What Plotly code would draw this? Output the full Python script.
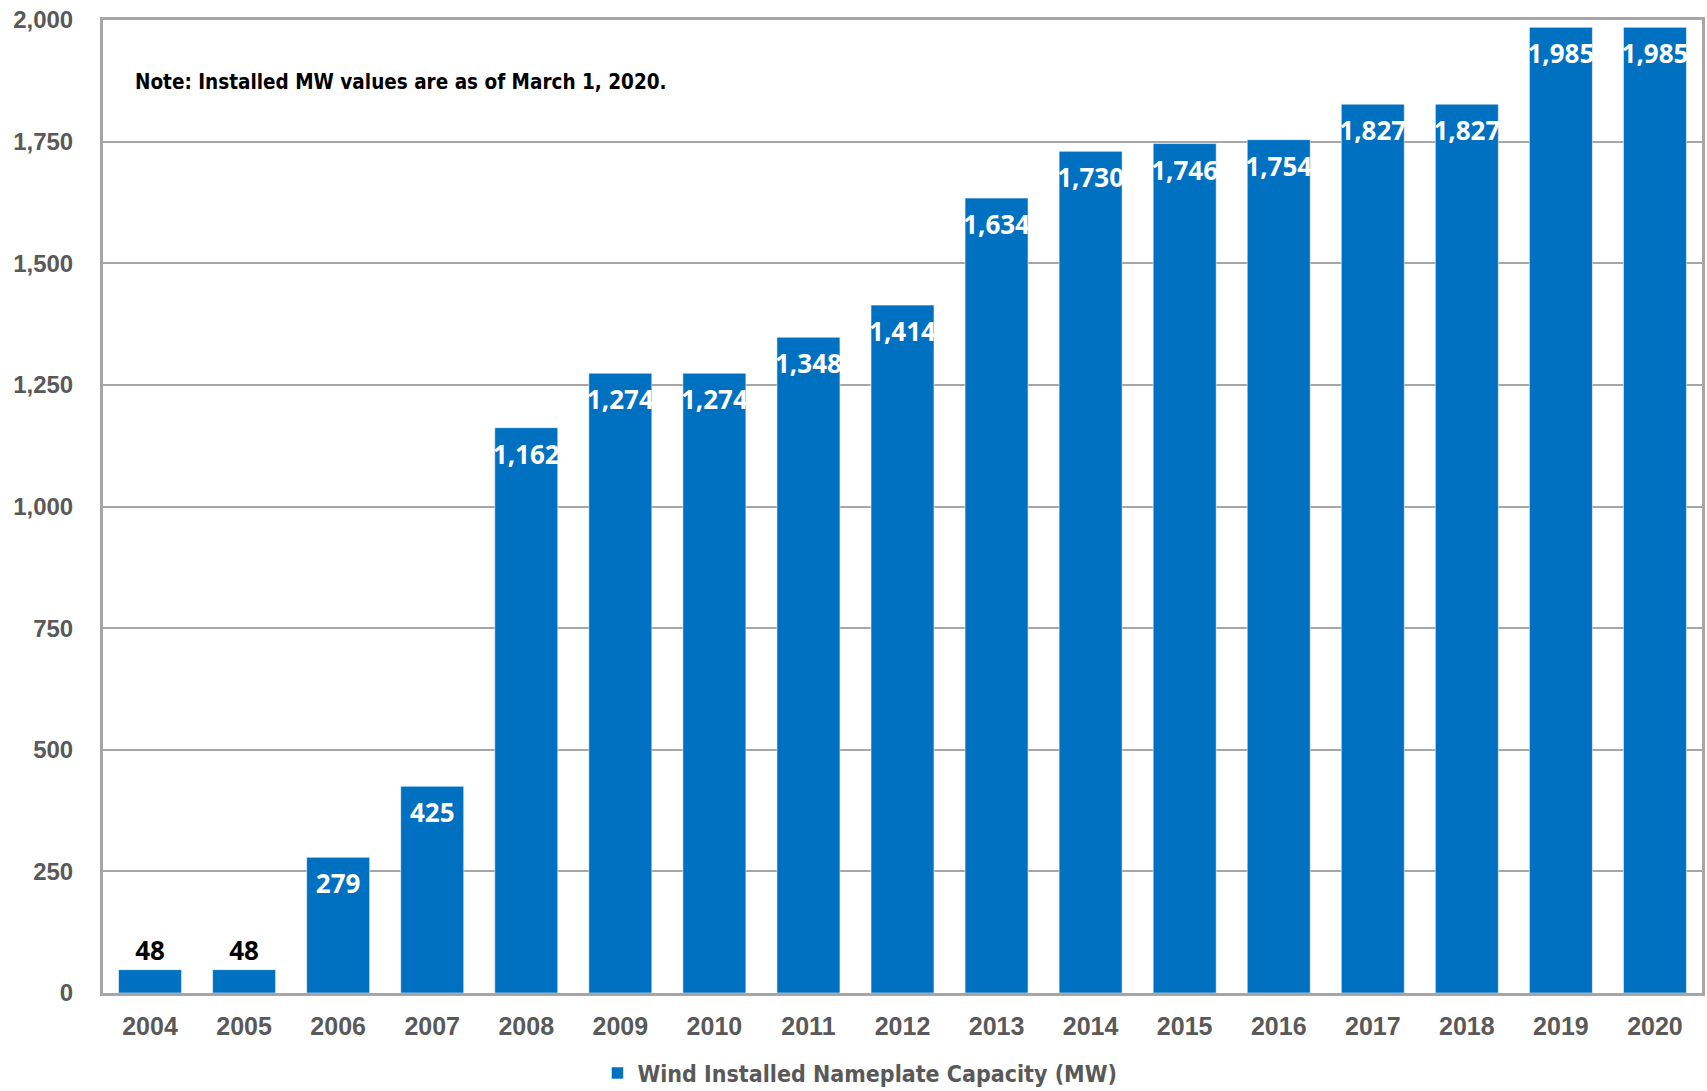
import plotly.graph_objects as go

years = ["2004", "2005", "2006", "2007", "2008", "2009", "2010", "2011", "2012",
         "2013", "2014", "2015", "2016", "2017", "2018", "2019", "2020"]
capacity_mw = [48, 48, 279, 425, 1162, 1274, 1274, 1348, 1414,
               1634, 1730, 1746, 1754, 1827, 1827, 1985, 1985]
series_name = "Wind Installed Nameplate Capacity (MW)"
note_text = "Note: Installed MW values are as of March 1, 2020."
y_ticks = [0, 250, 500, 750, 1000, 1250, 1500, 1750, 2000]

BLUE = "#0070C0"
GRID = "#A6A6A6"
TICK_GRAY = "#595959"
NARROW = "Liberation Sans Narrow, Arial Narrow, DejaVu Sans Condensed, sans-serif"
LABEL_FONT = "Noto Sans, Open Sans, sans-serif"

inside = [v > 100 for v in capacity_mw]

fig = go.Figure()
fig.add_trace(go.Bar(
    x=years, y=capacity_mw, name=series_name,
    marker=dict(color=BLUE, line=dict(color="rgba(255,255,255,0.55)", width=1)),
    hoverinfo="x+y",
))
# data labels
fig.add_trace(go.Scatter(
    x=years, y=capacity_mw, mode="markers+text",
    text=[f"{v:,}" for v in capacity_mw],
    textposition=["bottom center" if i else "top center" for i in inside],
    textfont=dict(family=LABEL_FONT, size=26, weight="bold",
                  color=["white" if i else "black" for i in inside]),
    marker=dict(size=[25 if i else 4 for i in inside], color="rgba(0,0,0,0)",
                line=dict(width=0)),
    showlegend=False, hoverinfo="skip", cliponaxis=False,
))

fig.update_layout(
    width=1707, height=1091,
    margin=dict(l=103, r=5, t=20, b=98, autoexpand=False),
    paper_bgcolor="white", plot_bgcolor="white",
    bargap=0.33,
    font=dict(family="Liberation Sans, Arial, sans-serif", color=TICK_GRAY),
    showlegend=True,
    legend=dict(orientation="h", xref="container", yref="container",
                x=0.35, xanchor="left", y=0.0165, yanchor="middle",
                font=dict(family=NARROW, size=23, color=TICK_GRAY, weight="bold"),
                itemwidth=30, bgcolor="rgba(0,0,0,0)"),
    annotations=[dict(text=note_text, xref="paper", yref="paper", x=0.019, y=0.936,
                      xanchor="left", yanchor="middle", showarrow=False,
                      font=dict(family=NARROW, size=20.5, color="black", weight="bold"))],
)
fig.update_xaxes(
    type="category", range=[-0.5, len(years) - 0.5],
    showgrid=False, showline=True, linecolor=GRID, linewidth=3,
    mirror=True, ticks="", ticklabelstandoff=9,
    tickfont=dict(size=25, color=TICK_GRAY, weight="bold"),
)
fig.update_yaxes(
    range=[0, 2000], tickvals=y_ticks, tickformat=",", showgrid=True,
    gridcolor=GRID, gridwidth=2, showline=True, linecolor=GRID, linewidth=3,
    mirror=True, ticks="", ticklabelstandoff=22, zeroline=False,
    tickfont=dict(size=24, color=TICK_GRAY, weight="bold"),
)

fig.write_html("out.html")
